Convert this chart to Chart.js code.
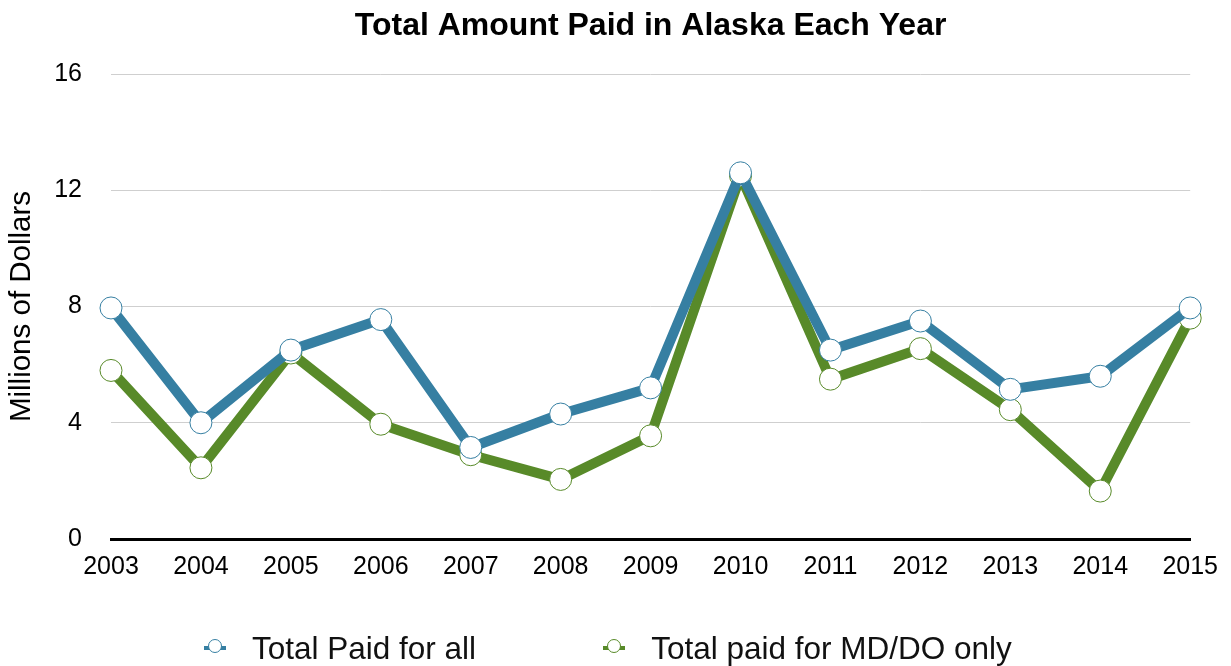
<!DOCTYPE html>
<html>
<head>
<meta charset="utf-8">
<script src="https://cdn.jsdelivr.net/npm/chart.js@4"></script>
<style>
  html, body { margin: 0; padding: 0; background: #fff; overflow: hidden; }
  #wrap { position: relative; width: 1231px; height: 666px; }
  #legend {
    position: absolute; left: 204px; top: 630px; height: 36px;
    display: flex; align-items: center;
    font-family: 'Liberation Sans', Arial, sans-serif; font-size: 31.5px; color: #111;
  }
  .item { display: flex; align-items: center; white-space: nowrap; }
  .item + .item { margin-left: 127px; }
  .icon { position: relative; width: 22px; height: 4px; margin-right: 26px; }
  .icon::after {
    content: ''; position: absolute; left: 4px; top: -7px;
    width: 14px; height: 14px; border-radius: 50%;
    background: #fff; border: 1px solid var(--c); box-sizing: border-box;
  }
</style>
</head>
<body>
<div id="wrap">
  <canvas id="paidChart" width="1231" height="666"></canvas>
  <div id="legend"></div>
</div>
<script>
// ===== Total Amount Paid in Alaska =====

const years = ['2003', '2004', '2005', '2006', '2007', '2008', '2009',
               '2010', '2011', '2012', '2013', '2014', '2015'];

// millions of dollars
const totalPaidAll = [7.95, 4.0, 6.5, 7.55, 3.15, 4.3, 5.2, 12.6, 6.5, 7.5, 5.15, 5.6, 7.95];
const totalPaidMdDo = [5.8, 2.45, 6.4, 3.95, 2.9, 2.05, 3.55, 12.5, 5.5, 6.55, 4.45, 1.65, 7.6];

const yTicks = [0, 4, 8, 12, 16];

const seriesLabels = ['Total Paid for all', 'Total paid for MD/DO only'];

const blue = '#367fa2';
const green = '#588a29';
const font = "'Liberation Sans', Arial, Helvetica, sans-serif";

function series(label, data, color) {
  return {
    label: label,
    data: data,
    borderColor: color,
    backgroundColor: color,
    borderWidth: 10,
    borderJoinStyle: 'round',
    tension: 0,
    pointRadius: 11,
    pointHoverRadius: 11,
    pointBorderWidth: 1,
    pointBorderColor: color,
    pointBackgroundColor: '#fff',
    clip: false
  };
}

const ctx = document.getElementById('paidChart').getContext('2d');

new Chart(ctx, {
  type: 'line',
  data: {
    labels: years,
    datasets: [
      series(seriesLabels[0], totalPaidAll, blue),
      series(seriesLabels[1], totalPaidMdDo, green)
    ]
  },
  options: {
    responsive: false,
    animation: false,
    layout: {
      padding: { left: 0, right: 40, top: 0, bottom: 87 }
    },
    plugins: {
      legend: { display: false },
      tooltip: { enabled: false },
      title: {
        display: true,
        fullSize: false,
        text: 'Total Amount Paid in Alaska Each Year',
        color: '#000',
        font: { family: font, size: 32, weight: 'bold', lineHeight: 1.2 },
        padding: { top: 7, bottom: 28.6 }
      }
    },
    scales: {
      x: {
        offset: false,
        grid: { display: false, drawTicks: false },
        border: { display: true, color: '#000', width: 3 },
        ticks: {
          color: '#000',
          padding: 13,
          maxRotation: 0,
          autoSkip: false,
          font: { family: font, size: 25 }
        },
        afterFit: function(scale) { scale.height = 40; }
      },
      y: {
        min: 0,
        max: 16,
        afterBuildTicks: function(scale) {
          scale.ticks = yTicks.map(v => ({ value: v }));
        },
        grid: {
          color: '#cfcfcf',
          lineWidth: 1,
          drawTicks: false
        },
        border: { display: false },
        ticks: {
          color: '#000',
          padding: 29,
          font: { family: font, size: 25 }
        },
        title: {
          display: true,
          text: 'Millions of Dollars',
          color: '#000',
          font: { family: font, size: 29.5 },
          padding: { top: 4, bottom: 4 }
        },
        afterFit: function(scale) { scale.width = 111; }
      }
    }
  }
});

// legend below the plot
const legendEl = document.getElementById('legend');
[blue, green].forEach((color, i) => {
  const item = document.createElement('div');
  item.className = 'item';
  const icon = document.createElement('span');
  icon.className = 'icon';
  icon.style.background = color;
  icon.style.setProperty('--c', color);
  const text = document.createElement('span');
  text.textContent = seriesLabels[i];
  item.appendChild(icon);
  item.appendChild(text);
  legendEl.appendChild(item);
});
</script>
</body>
</html>
